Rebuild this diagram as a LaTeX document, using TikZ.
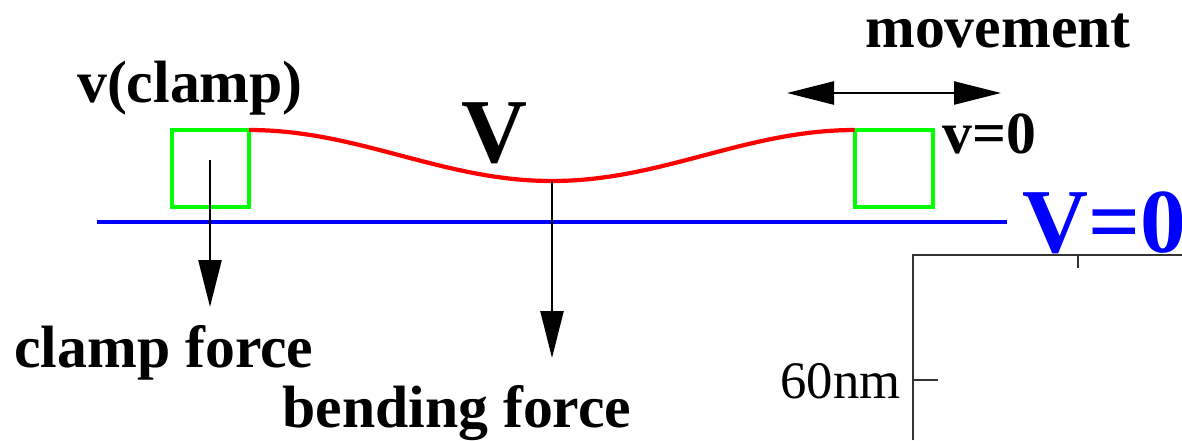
\documentclass[tikz,border=0pt]{standalone}
\usepackage{fontspec}
\setmainfont{Liberation Serif}
\usepackage{tikz}
\usetikzlibrary{arrows.meta,positioning,calc}

\begin{document}
\begin{tikzpicture}[
    x=0.02cm, y=-0.02cm,
    lbl/.style={font=\fontsize{34}{40}\selectfont\bfseries, inner sep=0},
    big/.style={font=\fontsize{52}{60}\selectfont\bfseries, inner sep=0},
    clampbox/.style={draw={rgb,255:red,0;green,255;blue,0}, line width=2.4pt},
    arrow/.style={-{Triangle[length=0.94cm,width=0.46cm]}, line width=1.4pt},
    axisline/.style={draw=black!80, line width=1.3pt}
]
\useasboundingbox (0,0) rectangle (1182,440);

% substrate and clamps
\draw[blue, line width=2.8pt] (97,222) -- (1007,222);
\draw[clampbox] (172,130) rectangle (249,207);
\draw[clampbox] (855,130) rectangle (933,207);
\coordinate (lclamp) at (249,130);
\coordinate (rclamp) at (855,130);
\coordinate (bottom) at (552,181);
\coordinate (lfoot) at (210,160);

% bent wire
\draw[red, line width=2.4pt] plot[domain=0:1, samples=80] ({249+606*\x},{130+25.5*(1-cos(360*\x))});

% labels
\node[lbl, anchor=base] (vclamp) at (190,102) {v(clamp)};
\node[lbl, anchor=base] (mov) at (998,47) {movement};
\node[lbl, anchor=base west] (vzero) at (942,153) {v=0};
\node[big, anchor=base] (vbig) at (494,162) {V};
\node[big, anchor=base west, text=blue] (vnull) at (1022,252) {V=0};
\node[lbl, anchor=base west] (cforce) at (14,367) {clamp force};
\node[lbl, anchor=base west] (bforce) at (282,427) {bending force};

% forces
\coordinate (cend) at (210,307);
\coordinate (bend) at (552,358);
\draw[arrow] (lfoot) -- (cend);
\draw[arrow] (bottom) -- (bend);
\coordinate (mleft) at (787,93);
\coordinate (mright) at (1001,93);
\draw[arrow, {Triangle[length=0.94cm,width=0.46cm]}-{Triangle[length=0.94cm,width=0.46cm]}] (mleft) -- (mright);

% axis corner
\draw[axisline] (913,440) -- (913,255) -- (1182,255);
\draw[axisline, line width=0.8pt] (1078,255) -- (1078,268);
\draw[axisline] (913,380) -- (938,380);
\node[font=\fontsize{30}{36}\selectfont, inner sep=0, anchor=base east] (scale) at (901,398) {60nm};

\end{tikzpicture}
\end{document}
